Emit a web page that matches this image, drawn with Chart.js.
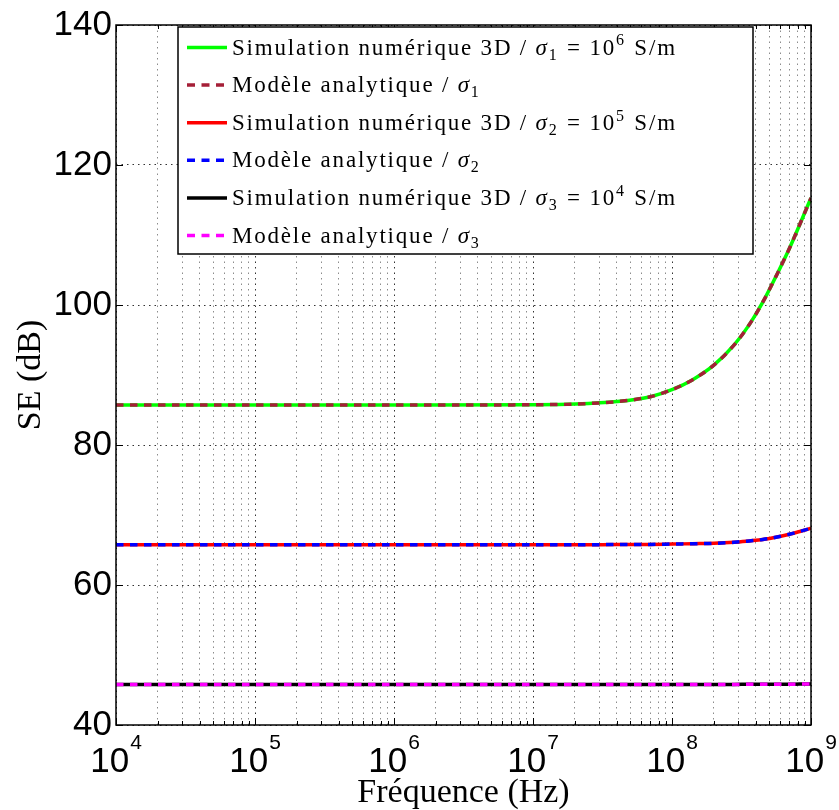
<!DOCTYPE html>
<html>
<head>
<meta charset="utf-8">
<script src="https://cdn.jsdelivr.net/npm/chart.js@4.4.1/dist/chart.umd.min.js"></script>
<style>
  html, body { margin:0; padding:0; background:#fff; }
</style>
</head>
<body>
<canvas id="c" width="839" height="810"></canvas>
<script>
// frequency samples (Hz) and shielding effectiveness (dB)
const freqHz   = [1e4, 1e5, 1e6, 1e7, 2e7, 4e7, 7e7, 1e8, 1.4e8, 2e8, 2.8e8, 3.6e8, 4.5e8, 5.7e8, 7e8, 8.3e8, 1e9]
const seSigma1 = [85.7, 85.7, 85.7, 85.75, 85.85, 86.2, 86.9, 87.9, 89.3, 91.4, 94.3, 97.2, 100.4, 104.4, 108.1, 111.5, 115.3]
const seSigma2 = [65.75, 65.75, 65.75, 65.75, 65.75, 65.78, 65.8, 65.85, 65.9, 65.95, 66.1, 66.3, 66.5, 66.85, 67.25, 67.65, 68.1]
const seSigma3 = [45.8, 45.8, 45.8, 45.8, 45.8, 45.8, 45.8, 45.8, 45.8, 45.8, 45.8, 45.81, 45.81, 45.82, 45.83, 45.84, 45.85]

const seriesLabels = [
  'Simulation numérique 3D / σ_1 = 10^6 S/m',
  'Modèle analytique / σ_1',
  'Simulation numérique 3D / σ_2 = 10^5 S/m',
  'Modèle analytique / σ_2',
  'Simulation numérique 3D / σ_3 = 10^4 S/m',
  'Modèle analytique / σ_3'
]
const seriesColors = ['#00ff00', '#a51f37', '#ff0000', '#0000ff', '#000000', '#ff00ff']

const xDecades = [4, 5, 6, 7, 8, 9]
const yTicks = [40, 60, 80, 100, 120, 140]

const pts = arr => freqHz.map((f, i) => ({ x: f, y: arr[i] }))
const isDecade = v => Math.abs(Math.log10(v) - Math.round(Math.log10(v))) < 1e-9

// 1..9 x 10^n for the log grid
const xGridTicks = []
xDecades.forEach((e, k) => {
  for (let m = 1; m <= 9; m++) {
    if (k === xDecades.length - 1 && m > 1) break
    xGridTicks.push(m * Math.pow(10, e))
  }
})

const curveData = [seSigma1, seSigma1, seSigma2, seSigma2, seSigma3, seSigma3]
const datasets = curveData.map((arr, i) => {
  const dashed = i % 2 === 1
  return {
    label: seriesLabels[i],
    data: pts(arr),
    borderColor: seriesColors[i],
    borderWidth: 3.5,
    borderDash: dashed ? [7.5, 6.5] : [],
    pointRadius: 0,
    cubicInterpolationMode: 'monotone',
    order: dashed ? 0 : 1
  }
})

function drawRich(ctx, str, x, y, size) {
  const fam = '"Liberation Serif"'
  let i = 0
  while (i < str.length) {
    const ch = str[i]
    if (ch === '_' || ch === '^') {
      const s = str[i + 1]
      ctx.font = `${Math.round(size * 0.7)}px ${fam}`
      ctx.fillText(s, x, y + (ch === '_' ? size * 0.22 : -size * 0.4))
      x += ctx.measureText(s).width + 1
      i += 2
      continue
    }
    if (ch === 'σ') {
      ctx.font = `italic ${size}px ${fam}`
      ctx.fillText(ch, x, y)
      x += ctx.measureText(ch).width
      i++
      continue
    }
    let run = ''
    while (i < str.length && !'_^σ'.includes(str[i])) run += str[i++]
    ctx.font = `${size}px ${fam}`
    ctx.fillText(run, x, y)
    x += ctx.measureText(run).width
  }
  return x
}

const framePlugin = {
  id: 'frame',
  afterDraw(chart) {
    const { ctx, chartArea: a, scales: { x, y } } = chart
    ctx.save()
    // inward ticks
    ctx.strokeStyle = '#000'
    ctx.lineWidth = 1
    ctx.beginPath()
    x.ticks.forEach(t => {
      const px = Math.round(x.getPixelForValue(t.value)) + 0.5
      const L = isDecade(t.value) ? 7 : 4
      ctx.moveTo(px, a.bottom); ctx.lineTo(px, a.bottom - L)
      ctx.moveTo(px, a.top); ctx.lineTo(px, a.top + L)
    })
    y.ticks.forEach(t => {
      const py = Math.round(y.getPixelForValue(t.value)) + 0.5
      ctx.moveTo(a.left, py); ctx.lineTo(a.left + 7, py)
      ctx.moveTo(a.right, py); ctx.lineTo(a.right - 7, py)
    })
    ctx.stroke()
    ctx.lineWidth = 1.5
    ctx.strokeRect(a.left, a.top, a.right - a.left, a.bottom - a.top)

    // decade labels 10^n
    ctx.fillStyle = '#000'
    ctx.textBaseline = 'alphabetic'
    ctx.textAlign = 'left'
    xDecades.forEach(e => {
      const px = x.getPixelForValue(Math.pow(10, e))
      ctx.font = '35px "Liberation Sans"'
      const w10 = ctx.measureText('10').width
      ctx.font = '21px "Liberation Sans"'
      const ws = ctx.measureText(String(e)).width
      const sx = px - (w10 + ws + 1) / 2
      ctx.font = '35px "Liberation Sans"'
      ctx.fillText('10', sx, a.bottom + 47)
      ctx.font = '21px "Liberation Sans"'
      ctx.fillText(String(e), sx + w10 + 1, a.bottom + 24)
    })
    ctx.restore()
  }
}

const legendPlugin = {
  id: 'legendBox',
  afterDraw(chart) {
    const { ctx, chartArea: a } = chart
    const L = a.left + 62, T = a.top + 2, W = 575, H = 227
    ctx.save()
    ctx.fillStyle = '#fff'
    ctx.fillRect(L, T, W, H)
    ctx.strokeStyle = '#000'
    ctx.lineWidth = 1.5
    ctx.strokeRect(L, T, W, H)
    chart.data.datasets.forEach((ds, i) => {
      const cy = T + 20.5 + i * 37.6
      ctx.beginPath()
      ctx.strokeStyle = ds.borderColor
      ctx.lineWidth = 3.5
      ctx.setLineDash(ds.borderDash.length ? [8, 6.5] : [])
      ctx.moveTo(L + 9, cy)
      ctx.lineTo(L + 49, cy)
      ctx.stroke()
      ctx.setLineDash([])
      ctx.fillStyle = '#000'
      ctx.textBaseline = 'alphabetic'
      ctx.letterSpacing = '1.8px'
      drawRich(ctx, ds.label, L + 54, cy + 7, 23)
      ctx.letterSpacing = '0px'
    })
    ctx.restore()
  }
}

new Chart(document.getElementById('c'), {
  type: 'line',
  data: { datasets },
  options: {
    responsive: false,
    animation: false,
    layout: { padding: { left: 0, right: 28, top: 22, bottom: 0 } },
    plugins: { legend: { display: false }, tooltip: { enabled: false } },
    scales: {
      x: {
        type: 'logarithmic',
        min: 1e4,
        max: 1e9,
        afterBuildTicks: s => { s.ticks = xGridTicks.map(v => ({ value: v })) },
        afterFit: s => { s.height = 85 },
        ticks: { display: false },
        grid: {
          drawTicks: false,
          lineWidth: 1,
          color: c => isDecade(c.tick.value) ? 'rgba(0,0,0,0.8)' : 'rgba(0,0,0,0.45)'
        },
        border: { display: false, dash: [1.5, 4] },
        title: {
          display: true,
          text: 'Fréquence (Hz)',
          color: '#000',
          font: { family: 'Liberation Serif', size: 34, lineHeight: 1 },
          padding: { top: 1, bottom: 0 }
        }
      },
      y: {
        min: 40,
        max: 140,
        afterBuildTicks: s => { s.ticks = yTicks.map(v => ({ value: v })) },
        afterFit: s => { s.width = 116 },
        ticks: { color: '#000', padding: 4, font: { family: 'Liberation Sans', size: 35 } },
        grid: { drawTicks: false, lineWidth: 1, color: 'rgba(0,0,0,0.8)' },
        border: { display: false, dash: [1.5, 4] },
        title: {
          display: true,
          text: 'SE (dB)',
          color: '#000',
          font: { family: 'Liberation Serif', size: 34, lineHeight: 1 },
          padding: { top: 14, bottom: 0 }
        }
      }
    }
  },
  plugins: [framePlugin, legendPlugin]
})
</script>
</body>
</html>
